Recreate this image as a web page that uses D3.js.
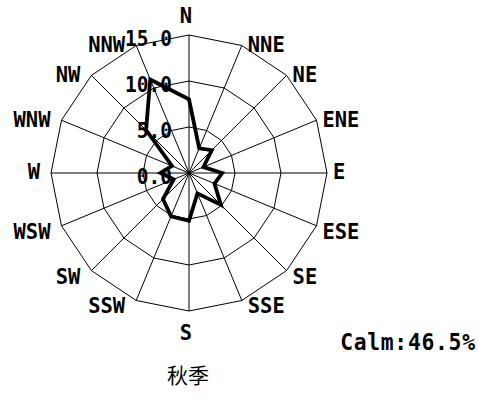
<!DOCTYPE html>
<html>
<head>
<meta charset="utf-8">
<script src="https://d3js.org/d3.v7.min.js"></script>
<style>
  html, body { margin: 0; padding: 0; background: #fff; }
  svg { display: block; }
</style>
</head>
<body>
<div id="chart"></div>
<script>
// Wind directions, clockwise from north
const directions = ['N', 'NNE', 'NE', 'ENE', 'E', 'ESE', 'SE', 'SSE',
                    'S', 'SSW', 'SW', 'WSW', 'W', 'WNW', 'NW', 'NNW'];
// Frequency (%) per direction
const frequency = [8.0, 2.9, 3.5, 1.7, 3.6, 3.0, 4.9, 2.4,
                   5.2, 5.1, 4.0, 1.8, 3.1, 2.0, 6.6, 11.0];
// Ring values and their labels
const rings = [5, 10, 15];
const ringLabelValues = [0, 5, 10, 15];
const ringLabels = ['0.0', '5.0', '10.0', '15.0'];
const calmText = 'Calm:46.5%';
const title = '秋季';

const width = 479;
const height = 414;
const cx = 189;
const cy = 173;
const outerRadius = 138;

// Narrow gothic look: mono font squeezed a little horizontally
const monoFont = '"DejaVu Sans Mono", "Liberation Mono", monospace';
const squeeze = 0.93;

const svg = d3.select('#chart')
    .append('svg')
    .attr('width', width)
    .attr('height', height)
    .attr('viewBox', `0 0 ${width} ${height}`);

svg.append('rect')
    .attr('width', width)
    .attr('height', height)
    .attr('fill', '#fff');

const g = svg.append('g')
    .attr('transform', `translate(${cx},${cy})`);

// Scales
const r = d3.scaleLinear().domain([0, 15]).range([0, outerRadius]);
const angle = d3.scaleLinear().domain([0, directions.length]).range([0, 2 * Math.PI]);

const px = (i, v) => r(v) * Math.sin(angle(i));
const py = (i, v) => -r(v) * Math.cos(angle(i));

// Rings (16-sided polygons)
const radialLine = d3.lineRadial()
    .angle((d, i) => angle(i))
    .radius(d => r(d))
    .curve(d3.curveLinearClosed);

g.selectAll('.ring')
    .data(rings)
    .enter()
    .append('path')
    .attr('class', 'ring')
    .attr('d', v => radialLine(directions.map(() => v)))
    .attr('fill', 'none')
    .attr('stroke', '#000')
    .attr('stroke-width', 1);

// Spokes
g.selectAll('.spoke')
    .data(directions)
    .enter()
    .append('line')
    .attr('class', 'spoke')
    .attr('x1', 0)
    .attr('y1', 0)
    .attr('x2', (d, i) => px(i, 15))
    .attr('y2', (d, i) => py(i, 15))
    .attr('stroke', '#000')
    .attr('stroke-width', 1);

// Data line
g.append('path')
    .attr('d', radialLine(frequency))
    .attr('fill', 'none')
    .attr('stroke', '#000')
    .attr('stroke-width', 3.8)
    .attr('stroke-linejoin', 'miter');

// Ring value labels, right-aligned left of the north spoke
g.selectAll('.ring-label')
    .data(ringLabelValues)
    .enter()
    .append('text')
    .attr('class', 'ring-label')
    .attr('transform', v => `translate(-17,${-r(v) + 3}) scale(${squeeze},1)`)
    .attr('dy', '0.36em')
    .attr('text-anchor', 'end')
    .attr('font-family', monoFont)
    .attr('font-weight', 'bold')
    .attr('font-size', 21)
    .text((v, i) => ringLabels[i]);

// Direction labels placed next to the outer ring vertices
const labelPos = i => {
    const s = Math.sin(angle(i));
    const c = Math.cos(angle(i));
    const x = px(i, 15);
    const y = py(i, 15);
    if (Math.abs(s) < 0.01) {
        return { x: x - 3, y: c > 0 ? y - 20 : y + 21, anchor: 'middle' };
    }
    return {
        x: s > 0 ? x + 6 : x - 11,
        y: c < -0.01 ? y + 5 : y - 1.5,
        anchor: s > 0 ? 'start' : 'end'
    };
};

g.selectAll('.dir-label')
    .data(directions)
    .enter()
    .append('text')
    .attr('class', 'dir-label')
    .attr('transform', (d, i) => {
        const p = labelPos(i);
        return `translate(${p.x},${p.y}) scale(${squeeze},1)`;
    })
    .attr('dy', '0.36em')
    .attr('text-anchor', (d, i) => labelPos(i).anchor)
    .attr('font-family', monoFont)
    .attr('font-weight', 'bold')
    .attr('font-size', 22)
    .text(d => d);

// Calm
svg.append('text')
    .attr('transform', `translate(475,350) scale(${squeeze},1)`)
    .attr('text-anchor', 'end')
    .attr('font-family', monoFont)
    .attr('font-weight', 'bold')
    .attr('font-size', 23)
    .attr('textLength', 145)
    .attr('lengthAdjust', 'spacing')
    .text(calmText);

// Title
svg.append('text')
    .attr('x', 188)
    .attr('y', 383)
    .attr('text-anchor', 'middle')
    .attr('font-family', '"Noto Sans CJK JP", "Noto Sans CJK SC", sans-serif')
    .attr('font-size', 21)
    .text(title);
</script>
</body>
</html>
